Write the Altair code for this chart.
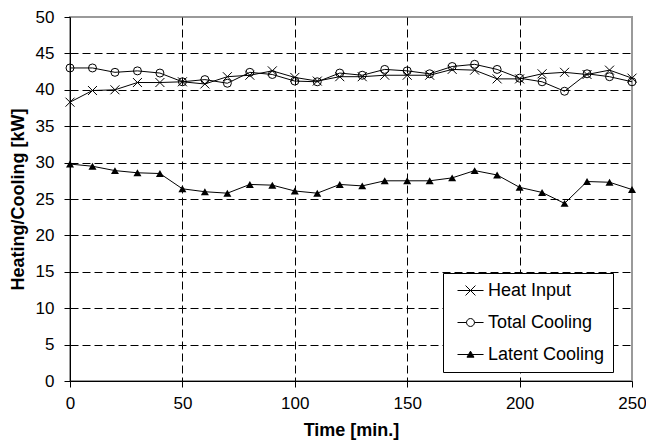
import altair as alt
import pandas as pd

# ---- data ----
time_min = list(range(0, 260, 10))
heat_input = [38.3, 39.9, 40.0, 41.0, 41.0, 41.1, 40.8, 41.8, 42.0, 42.6, 41.7, 41.2, 41.8,
              41.8, 42.0, 42.0, 42.0, 42.8, 42.7, 41.5, 41.5, 42.2, 42.4, 42.1, 42.7, 41.6]
total_cooling = [43.0, 43.0, 42.4, 42.6, 42.3, 41.1, 41.4, 40.9, 42.4, 42.1, 41.2, 41.1, 42.3,
                 42.0, 42.8, 42.6, 42.2, 43.2, 43.5, 42.8, 41.6, 41.1, 39.8, 42.2, 41.8, 41.1]
latent_cooling = [29.8, 29.5, 28.9, 28.6, 28.5, 26.4, 26.0, 25.8, 27.0, 26.9, 26.1, 25.8, 27.0,
                  26.8, 27.5, 27.5, 27.5, 27.9, 28.9, 28.3, 26.6, 25.9, 24.4, 27.4, 27.3, 26.3]
series_names = ["Heat Input", "Total Cooling", "Latent Cooling"]
x_ticks = [0, 50, 100, 150, 200, 250]
y_ticks = list(range(0, 55, 5))

df = pd.DataFrame({
    "t": time_min * 3,
    "value": heat_input + total_cooling + latent_cooling,
    "series": [series_names[0]] * len(time_min) + [series_names[1]] * len(time_min)
              + [series_names[2]] * len(time_min),
})

FONT = "Liberation Sans"
X_PATH = "M-1,-1L1,1M-1,1L1,-1"

# legend symbols: short line with marker in the middle (unit = 9 px)
LEG_X = "M-0.33,0L2.56,0M0.56,-0.55L1.66,0.55M0.56,0.55L1.66,-0.55"
LEG_O = ("M-0.33,0L0.67,0M1.55,0L2.56,0M0.67,0"
         "A0.44,0.44 0 1,0 1.55,0A0.44,0.44 0 1,0 0.67,0Z")
LEG_T = "M-0.33,0L2.56,0M0.72,0.3L1.5,0.3L1.11,-0.37Z"

x_enc = alt.X("t:Q",
              scale=alt.Scale(domain=[0, 250], nice=False, zero=False),
              axis=alt.Axis(values=x_ticks, title="Time [min.]", labelPadding=8,
                            titlePadding=10, labelFlush=False, labelOverlap=False,
                            gridOpacity={"condition": {"test": "datum.value >= 250 || datum.value <= 0", "value": 0}, "value": 1}))
y_enc = alt.Y("value:Q",
              scale=alt.Scale(domain=[0, 50], nice=False),
              axis=alt.Axis(values=y_ticks, title="Heating/Cooling [kW]", labelPadding=10,
                            titlePadding=8, labelOverlap=False,
                            gridOpacity={"condition": {"test": "datum.value >= 50 || datum.value <= 0", "value": 0}, "value": 1}))

base = alt.Chart(df).encode(x=x_enc, y=y_enc)

lines = base.mark_line(color="black", strokeWidth=1).encode(detail="series:N")

heat_pts = base.transform_filter(alt.datum.series == series_names[0]).mark_point(
    shape=X_PATH, size=81, stroke="black", strokeWidth=1, filled=False, opacity=1)
total_pts = base.transform_filter(alt.datum.series == series_names[1]).mark_point(
    shape="circle", size=64, stroke="black", strokeWidth=1, filled=False, opacity=1)
latent_pts = base.transform_filter(alt.datum.series == series_names[2]).mark_point(
    shape="triangle-up", size=64, color="black", filled=True, opacity=1)

leg = alt.Legend(title=None, orient="none", legendX=373, legendY=256,
                 labelFont=FONT, labelFontSize=18, labelColor="black",
                 strokeColor="black", fillColor="white", padding=8,
                 symbolSize=324, symbolStrokeWidth=1, symbolStrokeColor="black",
                 rowPadding=13, labelOffset=18)

legend_layer = alt.Chart(df).transform_filter("datum.t < 0").mark_point(
    strokeWidth=1, filled=True, opacity=1).encode(
    shape=alt.Shape("series:N", scale=alt.Scale(domain=series_names, range=[LEG_X, LEG_O, LEG_T]),
                    legend=leg),
    fill=alt.Fill("series:N", scale=alt.Scale(domain=series_names, range=["transparent", "white", "black"]),
                  legend=leg),
    stroke=alt.Stroke("series:N", scale=alt.Scale(domain=series_names, range=["black", "black", "black"]),
                      legend=leg),
)

chart = alt.layer(lines, heat_pts, total_pts, latent_pts, legend_layer).properties(
    width=562, height=364,
    autosize=alt.AutoSizeParams(type="none"),
    padding={"left": 62, "top": 9, "right": 14, "bottom": 64},
    background="white",
).configure_axis(
    labelFont=FONT, labelFontSize=17, labelColor="black",
    titleFont=FONT, titleFontSize=18, titleFontWeight="bold", titleColor="black",
    domainColor="black", domainWidth=1, tickColor="black", tickSize=6, tickWidth=1,
    gridColor="black", gridDash=[8, 4], gridWidth=1,
).configure_view(stroke="#9a9a9a", strokeWidth=2)

chart.save("out.html", embed_options={"renderer": "svg", "actions": False})
